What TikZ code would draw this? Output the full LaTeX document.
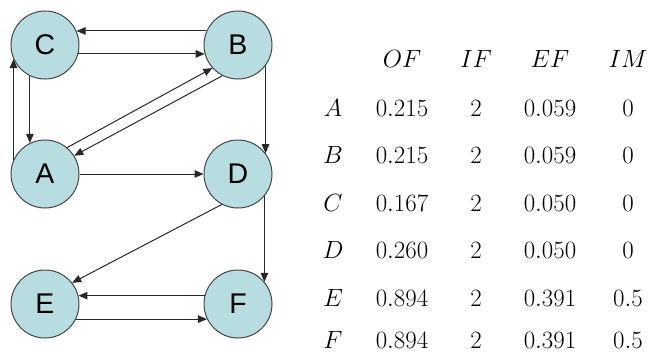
\documentclass[tikz,border=0pt]{standalone}
\usepackage{fontspec}
\newfontfamily\nodefont{Liberation Sans}
\usetikzlibrary{arrows.meta}
\definecolor{nodefill}{RGB}{183,221,224}
\definecolor{nodeedge}{RGB}{70,70,70}
\definecolor{edgecol}{RGB}{40,40,40}
\begin{document}
\begin{tikzpicture}[x=1pt,y=1pt,
  vertex/.style={circle,draw=nodeedge,line width=1pt,fill=nodefill,
    minimum size=68pt,inner sep=0pt,font=\nodefont\fontsize{28.5}{30}\selectfont},
  link/.style={draw=edgecol,line width=1pt,-{Triangle[length=9pt,width=7.5pt]}},
  cell/.style={anchor=base,inner sep=0pt,font=\fontsize{25}{28}\selectfont}]
\useasboundingbox (0,0) rectangle (649,-356);

% graph vertices
\node[vertex] (C) at (45,-45) {C};
\node[vertex] (B) at (238,-45) {B};
\node[vertex] (A) at (45,-174) {A};
\node[vertex] (D) at (238,-174) {D};
\node[vertex] (E) at (45,-304) {E};
\node[vertex] (F) at (238,-304) {F};

% directed edges
\draw[link] (B.156) -- (C.24);
\draw[link] (C.-15) -- (B.195);
\draw[link] (C.244) -- (A.116);
\draw[link] (A.156) -- (C.204);
\draw[link] (A.50) -- (B.222);
\draw[link] (B.243) -- (A.32);
\draw[link] (B.-37) -- (D.37);
\draw[link] (A.east) -- (D.west);
\draw[link] (D.242) -- (E.38);
\draw[link] (D.-40) -- (F.40);
\draw[link] (F.166) -- (E.14);
\draw[link] (E.-26) -- (F.-154);

% table header
\node[cell] (hOF) at (402,-67) {$OF$};
\node[cell] (hIF) at (476,-67) {$IF$};
\node[cell] (hEF) at (550,-67) {$EF$};
\node[cell] (hIM) at (628,-67) {$IM$};

% table rows
\foreach \r/\y/\of/\ef/\im in {A/116/0.215/0.059/0, B/163/0.215/0.059/0,
    C/211/0.167/0.050/0, D/258/0.260/0.050/0,
    E/306/0.894/0.391/0.5, F/348/0.894/0.391/0.5}{
  \node[cell] (r\r) at (333,-\y) {$\r$};
  \node[cell] (of\r) at (402,-\y) {$\of$};
  \node[cell] (if\r) at (476,-\y) {$2$};
  \node[cell] (ef\r) at (550,-\y) {$\ef$};
  \node[cell] (im\r) at (628,-\y) {$\im$};
}
\end{tikzpicture}
\end{document}
